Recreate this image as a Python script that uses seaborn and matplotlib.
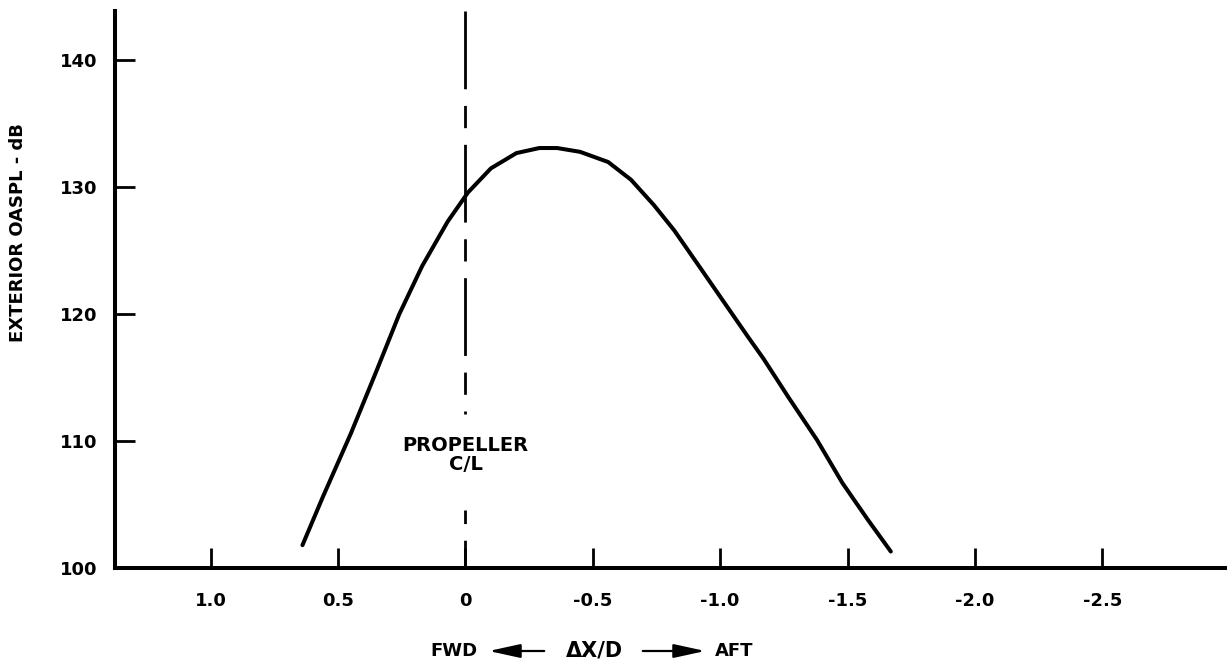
import numpy as np
import pandas as pd
import matplotlib
matplotlib.use("Agg")
import matplotlib.pyplot as plt
from matplotlib.patches import FancyArrowPatch
import seaborn as sns

# curve
dx_over_d = [0.64, 0.56, 0.45, 0.35, 0.26, 0.17, 0.07, -0.01, -0.10, -0.20,
             -0.29, -0.36, -0.45, -0.56, -0.65, -0.74, -0.82, -0.91, -1.01,
             -1.11, -1.17, -1.27, -1.38, -1.48, -1.58, -1.67]
oaspl_db = [101.8, 105.6, 110.6, 115.5, 120.0, 123.8, 127.3, 129.6, 131.5, 132.7,
            133.1, 133.1, 132.8, 132.0, 130.6, 128.6, 126.6, 124.0, 121.1,
            118.2, 116.5, 113.4, 110.1, 106.7, 103.8, 101.3]
x_ticks = [1.0, 0.5, 0.0, -0.5, -1.0, -1.5, -2.0, -2.5]
x_ticklabels = ["1.0", "0.5", "0", "-0.5", "-1.0", "-1.5", "-2.0", "-2.5"]
y_ticks = [100, 110, 120, 130, 140]
prop_cl = 0.0

df = pd.DataFrame({"dx": dx_over_d, "oaspl": oaspl_db})

sns.set_theme(style="white")
plt.rcParams['font.family'] = ['DejaVu Sans']
plt.rcParams['font.weight'] = 'bold'
plt.rcParams['text.color'] = 'black'
plt.rcParams['axes.labelcolor'] = 'black'

fig = plt.figure(figsize=(12.27, 6.66), dpi=100)
ax = fig.add_axes([115 / 1227, 1 - 568 / 666, 1 - 115 / 1227, 557 / 666])

sns.lineplot(data=df, x="dx", y="oaspl", sort=False, estimator=None,
             color="black", linewidth=2.9, ax=ax)
ax.lines[-1].set_solid_joinstyle("round")

# propeller centre line, broken around the label
ax.plot([prop_cl, prop_cl], [100, 104.6], color="black", linewidth=2,
        dashes=(10, 6, 28, 6))
ax.plot([prop_cl, prop_cl], [143.9, 112.1], color="black", linewidth=2,
        dashes=(28, 6, 8, 6))
ax.text(prop_cl, 108.9, "PROPELLER\nC/L", ha="center", va="center",
        fontsize=14, fontweight="bold", linespacing=0.95, color="black")

ax.set_xlim(1.376, -2.99)
ax.set_ylim(100, 143.9)
ax.set_xticks(x_ticks)
ax.set_xticklabels(x_ticklabels)
ax.set_yticks(y_ticks)

for s in ["top", "right"]:
    ax.spines[s].set_visible(False)
for s in ["left", "bottom"]:
    ax.spines[s].set_linewidth(2.9)
    ax.spines[s].set_color("black")

ax.tick_params(axis="x", bottom=True, direction="in", length=14.5, width=2,
               pad=17, labelsize=13, colors="black")
ax.tick_params(axis="y", left=True, direction="in", length=14.5, width=2,
               pad=13, labelsize=13, colors="black")
for lab in ax.get_xticklabels() + ax.get_yticklabels():
    lab.set_fontweight("bold")

ax.set_xlabel("")
ax.set_ylabel("EXTERIOR OASPL - dB", fontsize=13, fontweight="bold",
              color="black", va="center")
ax.yaxis.set_label_coords(-0.087, 0.603)

# FWD <-- dX/D --> AFT
yl = 1 - 651 / 666
fig.text(454 / 1227, yl, "FWD", ha="center", va="center", fontsize=13, fontweight="bold")
fig.text(594 / 1227, yl, "ΔX/D", ha="center", va="center", fontsize=15, fontweight="bold")
fig.text(734 / 1227, yl, "AFT", ha="center", va="center", fontsize=13, fontweight="bold")
head = "-|>,head_length=1.6,head_width=0.35"
fig.add_artist(FancyArrowPatch((547 / 1227, yl), (486 / 1227, yl),
                               transform=fig.transFigure, arrowstyle=head,
                               color="black", lw=1.6, mutation_scale=12))
fig.add_artist(FancyArrowPatch((640 / 1227, yl), (708 / 1227, yl),
                               transform=fig.transFigure, arrowstyle=head,
                               color="black", lw=1.6, mutation_scale=12))

fig.savefig("out.png", dpi=100)
